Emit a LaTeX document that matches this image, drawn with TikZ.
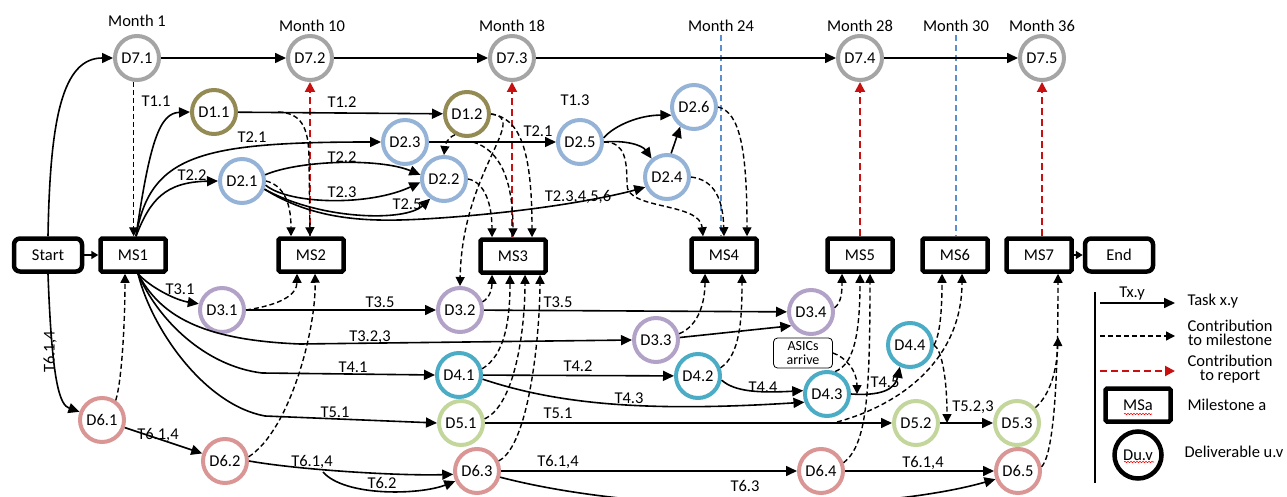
\documentclass[tikz,border=0pt]{standalone}
\usepackage{fontspec}
\setmainfont{Carlito}
\usetikzlibrary{arrows.meta,calc,positioning,decorations.pathmorphing}

\definecolor{dgrey}{HTML}{A5A5A5}
\definecolor{dolive}{HTML}{948A54}
\definecolor{dblue}{HTML}{95B3D7}
\definecolor{dlilac}{HTML}{B3A2C7}
\definecolor{dteal}{HTML}{4BACC6}
\definecolor{dgreen}{HTML}{C3D69B}
\definecolor{drose}{HTML}{D99694}
\definecolor{repred}{HTML}{C81010}
\definecolor{monthblue}{HTML}{5B8FD0}

\tikzset{deliv/.style={
            circle,
            draw=#1,
            fill=white,
            line width=4pt,
            inner sep=0pt,
            minimum size=44pt
        },
        mstone/.style={
            draw,
            fill=white,
            line width=4.5pt,
            rounded corners=1.5pt,
            inner sep=0pt,
            minimum width=65pt,
            minimum height=33pt
        },
        endpoint/.style={
            mstone,
            rounded corners=6pt,
            minimum width=68pt
        },
        asics/.style={
            draw,
            line width=0.8pt,
            rounded corners=4pt,
            align=center,
            inner sep=1pt,
            minimum width=59pt,
            minimum height=30pt,
            font=\fontsize{14}{14}\selectfont
        },
        task/.style={
            -{Triangle[length=11pt,width=10pt]},
            line width=1.6pt
        },
        contrib/.style={
            -{Triangle[length=9pt,width=9pt]},
            line width=1.4pt,
            dash pattern=on 5pt off 3pt
        },
        report/.style={
            -{Triangle[length=10pt,width=10pt]},
            line width=2pt,
            dash pattern=on 7pt off 4pt,
            repred
        },
        monthline/.style={
            line width=1.6pt,
            dash pattern=on 6pt off 4pt,
            monthblue
        },
        legtext/.style={
            anchor=west,
            align=center,
            font=\fontsize{16.5}{14}\selectfont
        }
    }

\begin{document}
\begin{tikzpicture}[x=1pt, y=-1pt, font=\fontsize{16.5}{18}\selectfont]
    \useasboundingbox (0,0) rectangle (1287,497);

    % months
    \node (m1) at (137,21) {Month 1};
    \node (m10) at (312,26) {Month 10};
    \node (m18) at (512,26) {Month 18};
    \node (m24) at (721,26) {Month 24};
    \node (m28) at (860,26) {Month 28};
    \node (m30) at (956,26) {Month 30};
    \node (m36) at (1042,26) {Month 36};

    % milestones
    \node[endpoint] (startbox) at (48,255) {Start};
    \node[mstone] (ms1) at (133,255) {MS1};
    \node[mstone] (ms2) at (311,255) {MS2};
    \node[mstone] (ms3) at (513,256) {MS3};
    \node[mstone] (ms4) at (724,255) {MS4};
    \node[mstone] (ms5) at (860,255) {MS5};
    \node[mstone] (ms6) at (955,255) {MS6};
    \node[mstone] (ms7) at (1039,255) {MS7};
    \node[endpoint] (endbox) at (1119,255) {End};

    % deliverables
    \node[deliv=dgrey] (d71) at (137,58) {D7.1};
    \node[deliv=dgrey] (d72) at (310,58) {D7.2};
    \node[deliv=dgrey] (d73) at (512,58) {D7.3};
    \node[deliv=dgrey] (d74) at (860,58) {D7.4};
    \node[deliv=dgrey] (d75) at (1042,58) {D7.5};

    \node[deliv=dolive] (d11) at (214,112) {D1.1};
    \node[deliv=dolive] (d12) at (467,114) {D1.2};

    \node[deliv=dblue] (d21) at (242,181) {D2.1};
    \node[deliv=dblue] (d22) at (444,179) {D2.2};
    \node[deliv=dblue] (d23) at (405,142) {D2.3};
    \node[deliv=dblue] (d24) at (667,177) {D2.4};
    \node[deliv=dblue] (d25) at (580,142) {D2.5};
    \node[deliv=dblue] (d26) at (694,107) {D2.6};

    \node[deliv=dlilac] (d31) at (222,310) {D3.1};
    \node[deliv=dlilac] (d32) at (460,310) {D3.2};
    \node[deliv=dlilac] (d33) at (656,340) {D3.3};
    \node[deliv=dlilac] (d34) at (811,312) {D3.4};

    \node[deliv=dteal] (d41) at (459,375) {D4.1};
    \node[deliv=dteal] (d42) at (698,376) {D4.2};
    \node[deliv=dteal] (d43) at (827,394) {D4.3};
    \node[deliv=dteal] (d44) at (910,345) {D4.4};

    \node[deliv=dgreen] (d51) at (461,423) {D5.1};
    \node[deliv=dgreen] (d52) at (916,423) {D5.2};
    \node[deliv=dgreen] (d53) at (1017,423) {D5.3};

    \node[deliv=drose] (d61) at (102,420) {D6.1};
    \node[deliv=drose] (d62) at (225,461) {D6.2};
    \node[deliv=drose] (d63) at (477,471) {D6.3};
    \node[deliv=drose] (d64) at (821,471) {D6.4};
    \node[deliv=drose] (d65) at (1018,471) {D6.5};

    \node[asics] (asic) at (803,353) {ASICs\\arrive};

    % attach points
    \coordinate (ms1top) at ($(ms1.north)+(3,0)$);
    \coordinate (ms1bot) at ($(ms1.south)+(5,0)$);
    \coordinate (ms1in) at ($(ms1.south)+(-8,0)$);
    \coordinate (ms2t1) at ($(ms2.north)+(-20,0)$);
    \coordinate (ms2t2) at ($(ms2.north)+(-1,0)$);
    \coordinate (ms2b1) at ($(ms2.south)+(-14,0)$);
    \coordinate (ms2b2) at ($(ms2.south)+(4,0)$);
    \coordinate (ms3t1) at ($(ms3.north)+(-21,0)$);
    \coordinate (ms3t3) at ($(ms3.north)+(19,0)$);
    \coordinate (ms3b1) at ($(ms3.south)+(-21,0)$);
    \coordinate (ms3b2) at ($(ms3.south)+(-3,0)$);
    \coordinate (ms3b3) at ($(ms3.south)+(12,0)$);
    \coordinate (ms3b4) at ($(ms3.south)+(27,0)$);
    \coordinate (ms4t1) at ($(ms4.north)+(-21,0)$);
    \coordinate (ms4t3) at ($(ms4.north)+(23,0)$);
    \coordinate (ms4b1) at ($(ms4.south)+(-19,0)$);
    \coordinate (ms4b2) at ($(ms4.south)+(18,0)$);
    \coordinate (ms5b1) at ($(ms5.south)+(-18,0)$);
    \coordinate (ms5b3) at ($(ms5.south)+(10,0)$);
    \coordinate (ms6b1) at ($(ms6.south)+(-13,0)$);
    \coordinate (ms6b2) at ($(ms6.south)+(7,0)$);
    \coordinate (ms7b) at ($(ms7.south)+(19,0)$);
    \coordinate (d71out) at (d71.-98);
    \coordinate (b11) at (278,112);
    \coordinate (b23) at (473,142);
    \coordinate (b51) at (837,422);
    \coordinate (b52) at (947,423);
    \coordinate (b43) at (857,394);
    \coordinate (t62) at (323,472);
    \coordinate (m7in) at (1058,337);

    % month markers and reports
    \draw[monthline] (m24.south) -- (m24.south |- ms4.north);
    \draw[monthline] (m30.south) -- (m30.south |- ms6.north);
    \draw[report] (d72.south |- ms2.north) -- (d72.south);
    \draw[report] (d73.south |- ms3.north) -- (d73.south);
    \draw[report] (d74.south |- ms5.north) -- (d74.south);
    \draw[report] (d75.south |- ms7.north) -- (d75.south);

    % top chain
    \draw[task] (startbox.north) .. controls (50,120) and (62,58) .. (d71.west);
    \draw[task] (d71) -- (d72);
    \draw[task] (d72) -- (d73);
    \draw[task] (d73) -- (d74);
    \draw[task] (d74) -- (d75);
    \draw[contrib] (d71out) -- (d71out |- ms1.north);
    \draw[task, -{Triangle[length=7pt,width=8pt]}] (startbox) -- (ms1);
    \draw[task, -{Triangle[length=7pt,width=8pt]}] (ms7) -- (endbox);

    % WP1 / WP2
    \draw[task] (ms1top) .. controls (150,140) and (160,113) .. (d11.west);
    \draw[task] (ms1top) .. controls (150,155) and (200,142) .. (d23.west);
    \draw[task] (ms1top) .. controls (150,200) and (165,182) .. (d21.west);
    \draw[task] (d11) -- (d12);
    \draw[contrib] (b11) .. controls (300,113) and (309,125) .. (309,160) -- (ms2t2);
    \draw[contrib] (d21.east) .. controls (282,185) and (291,200) .. (ms2t1);
    \draw[task] (d21.15) .. controls (300,160) and (380,158) .. (d22.170);
    \draw[task] (d21.-10) .. controls (290,205) and (370,206) .. (d22.188);
    \draw[task] (d21.-20) .. controls (320,220) and (405,222) .. (d22.235);
    \draw[task] (d21.-20) .. controls (320,224) and (380,222) .. (440,218)
        .. controls (540,211) and (610,197) .. (d24.205);
    \draw[task] (d23) -- (d25);
    \draw[task] (d25.10) .. controls (615,125) and (640,115) .. (d26.200);
    \draw[task] (d25.east) .. controls (625,140) and (642,145) .. (d24.130);
    \draw[task] (d24.80) -- (d26.235);
    \draw[contrib] (d12.240) .. controls (447,138) and (445,145) .. (d22.north);
    \draw[contrib] (d22.east) .. controls (485,182) and (492,205) .. (ms3t1);
    \draw[contrib] (b23) .. controls (500,150) and (513,180) .. (ms3.north);
    \draw[contrib] (d12.east) .. controls (520,118) and (532,150) .. (ms3t3);
    \draw[contrib] (d12.east) .. controls (530,118) and (462,170) .. (d32.north);
    \draw[contrib] (d25.east) .. controls (625,142) and (627,160) .. (627,185)
        .. controls (627,210) and (700,202) .. (ms4t1);
    \draw[contrib] (d24.east) .. controls (715,180) and (723,200) .. (ms4.north);
    \draw[contrib] (d26.east) .. controls (740,112) and (747,150) .. (ms4t3);

    % WP3 / WP4 / WP5
    \draw[task] (ms1bot) .. controls (150,287) and (175,300) .. (d31.165);
    \draw[task] (ms1bot) .. controls (160,315) and (200,340) .. (300,344) -- (d33.west);
    \draw[task] (ms1bot) .. controls (158,320) and (205,366) .. (262,373) -- (d41.west);
    \draw[task] (ms1bot) .. controls (152,330) and (205,405) .. (265,416) -- (d51.west);
    \draw[contrib] (d31.east) .. controls (280,305) and (297,295) .. (ms2b1);
    \draw[task] (d31) -- (d32);
    \draw[task] (d32) -- (d34);
    \draw[task] (d33) -- (d34.215);
    \draw[task] (d41) -- (d42);
    \draw[task] (d41.-10) .. controls (560,405) and (650,412) .. (d43.200);
    \draw[task] (d42.-10) .. controls (735,392) and (760,393) .. (d43.172);
    \draw[task] (d43.east) .. controls (880,396) and (895,390) .. (d44.245);
    \draw[task] (d51) -- (d52);
    \draw[task] (d52) -- (d53);
    \draw[contrib] (d32.20) .. controls (490,298) and (492,288) .. (ms3b1);
    \draw[contrib] (d41.15) .. controls (505,355) and (510,320) .. (ms3b2);
    \draw[contrib] (d51.10) .. controls (515,405) and (525,330) .. (ms3b3);
    \draw[contrib] (d63.25) .. controls (530,445) and (540,330) .. (ms3b4);
    \draw[contrib] (d33.15) .. controls (700,325) and (705,300) .. (ms4b1);
    \draw[contrib] (d42.20) .. controls (740,355) and (742,320) .. (ms4b2);
    \draw[contrib] (d34.10) .. controls (842,302) and (842,290) .. (ms5b1);
    \draw[contrib] (d43.70) .. controls (852,365) and (860,340) .. (ms5.south);
    \draw[contrib] (d64.20) .. controls (866,445) and (870,400) .. (ms5b3);
    \draw[contrib] (d44.east) .. controls (940,335) and (942,310) .. (ms6b1);
    \draw[contrib] (b51) .. controls (900,405) and (962,360) .. (ms6b2);
    \draw[contrib] (d44.east) .. controls (942,350) and (947,380) .. (b52);
    \draw[contrib] (asic.east) .. controls (845,357) and (857,370) .. (b43);
    \draw[contrib] (d53.40) .. controls (1050,395) and (1057,370) .. (m7in);
    \draw[contrib] (d65.10) .. controls (1052,455) and (1058,400) .. (ms7b);

    % WP6
    \draw[task] (startbox.south) .. controls (52,385) and (60,405) .. (d61.160);
    \draw[contrib] (d61.55) .. controls (122,380) and (125,320) .. (ms1in);
    \draw[task] (d61) -- (d62);
    \draw[contrib] (d62.10) .. controls (290,430) and (316,330) .. (ms2b2);
    \draw[task] (d62.east) .. controls (300,470) and (400,476) .. (d63.188);
    \draw[task] (t62) .. controls (345,497) and (420,495) .. (d63.205);
    \draw[task] (d63) -- (d64);
    \draw[task] (d64) -- (d65);
    \draw[task] (d63.-15) .. controls (650,516) and (880,512) .. (d65.200);

    % task labels
    \node (l11) at (156,101) {T1.1};
    \node (l12) at (342,102) {T1.2};
    \node (l13) at (575,100) {T1.3};
    \node (l21a) at (252,137) {T2.1};
    \node (l21b) at (538,131) {T2.1};
    \node (l22a) at (192,175) {T2.2};
    \node (l22b) at (342,157) {T2.2};
    \node (l23) at (342,192) {T2.3};
    \node (l25) at (407,204) {T2.5};
    \node (l2x) at (578,197) {T2.3,4,5,6};
    \node (l31) at (180,289) {T3.1};
    \node (l35a) at (380,302) {T3.5};
    \node (l35b) at (558,302) {T3.5};
    \node (l323) at (370,337) {T3.2,3};
    \node (l41) at (353,367) {T4.1};
    \node (l42) at (578,366) {T4.2};
    \node (l43) at (629,398) {T4.3};
    \node (l44) at (763,387) {T4.4};
    \node (l45) at (885,382) {T4.5};
    \node (l51a) at (335,412) {T5.1};
    \node (l51b) at (558,413) {T5.1};
    \node (l523) at (973,407) {T5.2,3};
    \node[rotate=90] (l614a) at (50,352) {T6.1,4};
    \node (l614b) at (158,435) {T6.1,4};
    \node (l614c) at (312,462) {T6.1,4};
    \node (l614d) at (558,462) {T6.1,4};
    \node (l614e) at (923,463) {T6.1,4};
    \node (l62) at (382,483) {T6.2};
    \node (l63) at (745,486) {T6.3};

    % legend
    \draw[line width=1.2pt] (1095,292) -- (1095,483);
    \draw[task] (1100,303) -- (1175,303);
    \node (lgtx) at (1132,294) {Tx.y};
    \node[legtext] (lgtask) at (1184,301) {Task x.y};
    \draw[contrib] (1100,336) -- (1175,336);
    \node[legtext] (lgcm) at (1184,333) {Contribution\\to milestone};
    \draw[report] (1100,371) -- (1175,371);
    \node[legtext] (lgcr) at (1184,369) {Contribution\\to report};
    \node[mstone] (lgms) at (1138,405) {MSa};
    \node[legtext] (lgmsa) at (1184,405) {Milestone a};
    \node[deliv=black, minimum size=47pt, line width=4.5pt] (lgd) at (1138,455) {Du.v};
    \node[legtext] (lgdv) at (1181,452) {Deliverable u.v};
    \draw[red, line width=0.6pt, decorate, decoration={snake, amplitude=0.7pt, segment length=3pt}] (1124,414) -- (1152,414);
    \draw[red, line width=0.6pt, decorate, decoration={snake, amplitude=0.7pt, segment length=3pt}] (1124,462) -- (1154,462);

\end{tikzpicture}
\end{document}
